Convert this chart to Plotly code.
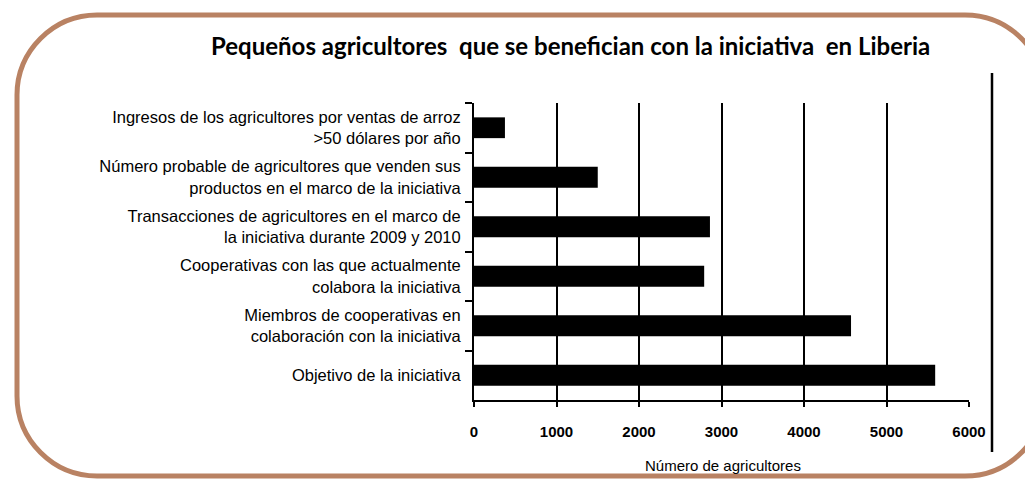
import plotly.graph_objects as go

categories = [
    "Ingresos de los agricultores por ventas de arroz<br>>50 dólares por año",
    "Número probable de agricultores que venden sus<br>productos en el marco de la iniciativa",
    "Transacciones de agricultores en el marco de<br>la iniciativa durante 2009 y 2010",
    "Cooperativas con las que actualmente<br>colabora la iniciativa",
    "Miembros de cooperativas en<br>colaboración con la iniciativa",
    "Objetivo de la iniciativa",
]
values = [375, 1500, 2860, 2790, 4570, 5590]
x_ticks = [0, 1000, 2000, 3000, 4000, 5000, 6000]
title_text = "Pequeños agricultores  que se benefician con la iniciativa  en Liberia"
x_title = "Número de agricultores"

W, H = 1025, 484
L, R, T, B = 474, 969, 103, 400


def px(x):
    return (x - L) / (R - L)


def py(y):
    return (B - y) / (B - T)


fig = go.Figure(
    go.Bar(
        y=categories,
        x=values,
        orientation="h",
        marker=dict(color="#000000", line=dict(width=0)),
        width=0.42,
    )
)

# rounded border path (pixel -> paper)
bl, bt, br, bb, r = 17, 15, 1045, 476, 80
k = 0.45
pts = [
    f"M {px(bl)},{py(bt + r)}",
    f"C {px(bl)},{py(bt + r * k)} {px(bl + r * k)},{py(bt)} {px(bl + r)},{py(bt)}",
    f"L {px(br - r)},{py(bt)}",
    f"C {px(br - r * k)},{py(bt)} {px(br)},{py(bt + r * k)} {px(br)},{py(bt + r)}",
    f"L {px(br)},{py(bb - r)}",
    f"C {px(br)},{py(bb - r * k)} {px(br - r * k)},{py(bb)} {px(br - r)},{py(bb)}",
    f"L {px(bl + r)},{py(bb)}",
    f"C {px(bl + r * k)},{py(bb)} {px(bl)},{py(bb - r * k)} {px(bl)},{py(bb - r)}",
    "Z",
]
shapes = [
    dict(type="path", xref="paper", yref="paper", path=" ".join(pts),
         line=dict(color="#b98263", width=5), fillcolor="rgba(0,0,0,0)", layer="above"),
    dict(type="line", xref="paper", yref="paper", x0=px(992), x1=px(992),
         y0=py(73), y1=py(452), line=dict(color="#000000", width=2.5)),
]

fig.update_layout(
    width=W, height=H,
    margin=dict(l=L, r=W - R, t=T, b=H - B, autoexpand=False),
    paper_bgcolor="white", plot_bgcolor="white",
    showlegend=False,
    bargap=0.58,
    shapes=shapes,
    font=dict(family="Liberation Sans, Arial, sans-serif", color="#000000"),
    xaxis=dict(
        range=[0, 6000], tickvals=x_ticks, ticktext=[str(v) for v in x_ticks],
        showgrid=True, gridcolor="#000000", gridwidth=2,
        showline=True, linecolor="#000000", linewidth=2,
        ticks="outside", ticklen=5, tickcolor="#000000", tickwidth=2,
        tickfont=dict(size=15, family="Liberation Sans, Arial, sans-serif", weight="bold"),
        ticklabelstandoff=12,
        zeroline=False, fixedrange=True,
    ),
    yaxis=dict(
        categoryorder="array", categoryarray=categories, autorange="reversed",
        showline=True, linecolor="#000000", linewidth=2,
        ticks="outside", ticklen=7, tickcolor="#000000", tickwidth=2,
        tickson="boundaries",
        tickfont=dict(size=16.5, family="Liberation Sans, Arial, sans-serif"),
        ticklabelstandoff=8,
        showgrid=False, zeroline=False, fixedrange=True,
    ),
    annotations=[
        dict(text=f"<b>{title_text}</b>", xref="paper", yref="paper",
             x=px(570), y=py(45), xanchor="center", yanchor="middle",
             showarrow=False, font=dict(size=24, family="Lato, Open Sans, sans-serif")),
        dict(text=x_title, xref="paper", yref="paper",
             x=px(723), y=py(465), xanchor="center", yanchor="middle",
             showarrow=False, font=dict(size=15, family="Liberation Sans, Arial, sans-serif")),
    ],
)

fig.write_html(
    "out.html",
    config={"displayModeBar": False, "staticPlot": True},
    post_script="document.body.style.margin='0';document.body.style.overflow='hidden';",
)
